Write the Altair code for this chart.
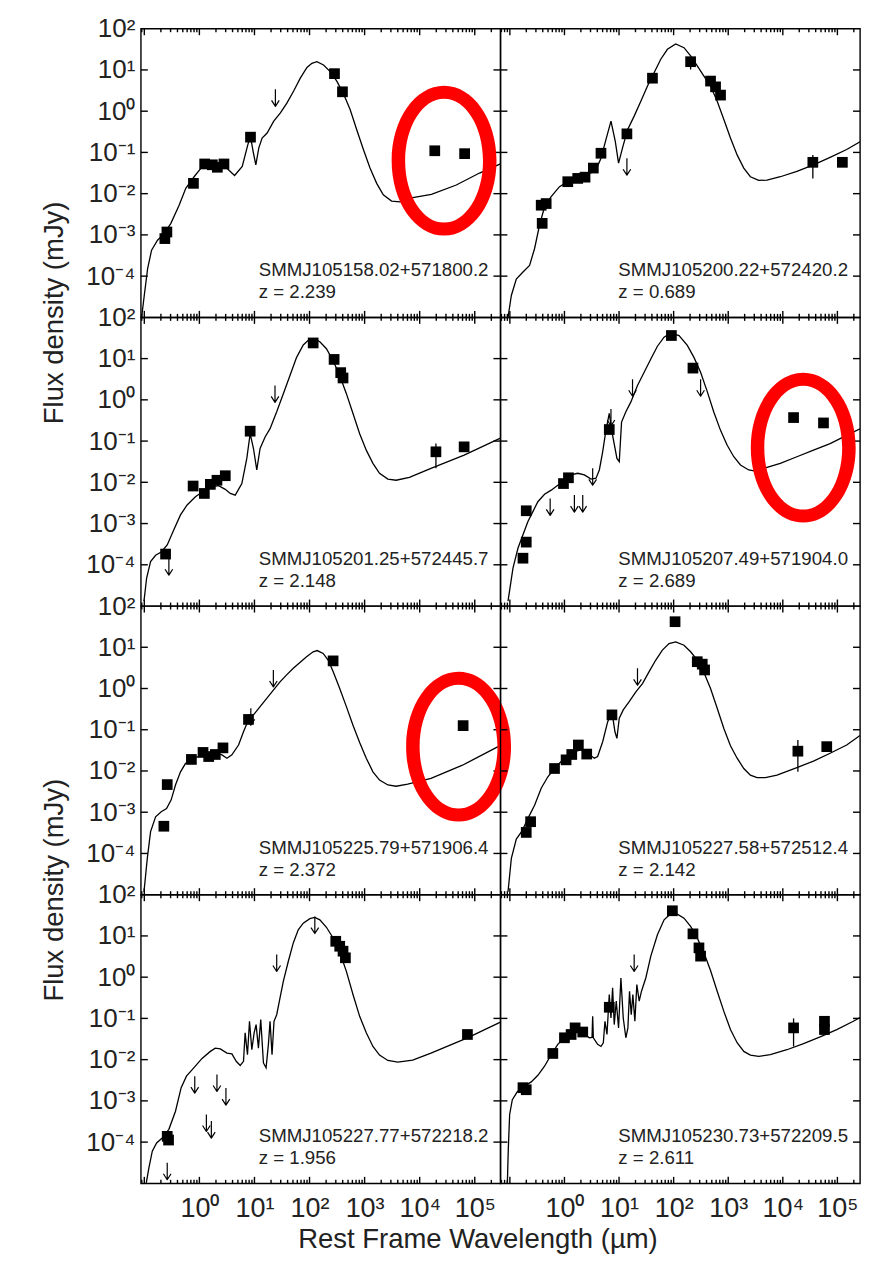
import altair as alt
import pandas as pd

# ---------------------------------------------------------------
# Text content
# ---------------------------------------------------------------
SOURCE_NAMES = ["SMMJ105158.02+571800.2", "SMMJ105200.22+572420.2",
                "SMMJ105201.25+572445.7", "SMMJ105207.49+571904.0",
                "SMMJ105225.79+571906.4", "SMMJ105227.58+572512.4",
                "SMMJ105227.77+572218.2", "SMMJ105230.73+572209.5"]
REDSHIFTS = ["2.239", "0.689", "2.148", "2.689", "2.372", "2.142", "1.956", "2.611"]
Y_TITLE = "Flux density (mJy)"
X_TITLE = "Rest Frame Wavelength (µm)"

Y_LABEL_EXP = [-4, -3, -2, -1, 0, 1, 2]
Y_LABEL_TEXT = ["10⁻⁴", "10⁻³", "10⁻²", "10⁻¹", "10⁰", "10¹", "10²"]
X_LABEL_EXP = [0, 1, 2, 3, 4, 5]
X_LABEL_TEXT = ["10⁰", "10¹", "10²", "10³", "10⁴", "10⁵"]

# tick marks on the frame
X_TICK_DECADES = [-2, -1, 0, 1, 2, 3, 4, 5]
X_MINOR_MULT = [2, 3, 4, 5, 6, 7, 8, 9]
Y_TICK_EXP = [-4, -3, -2, -1, 0, 1]

# ---------------------------------------------------------------
# Data: log10(rest wavelength / µm), log10(flux density / mJy)
# ---------------------------------------------------------------
# Panel A  SMMJ105158.02+571800.2
A_curve_lx = [-1.049, -1.001, -0.940, -0.868, -0.760, -0.639, -0.518, -0.368, -0.247, -0.096, 0.054, 0.235,
              0.446, 0.639, 0.778, 0.880, 0.928, 0.976, 1.025, 1.079, 1.139, 1.230, 1.350, 1.471, 1.591, 1.712,
              1.832, 1.953, 2.043, 2.134, 2.254, 2.375, 2.495, 2.616, 2.737, 2.857, 2.978, 3.098, 3.219, 3.339,
              3.490, 3.641, 3.822, 4.213, 4.665, 5.087, 5.466]
A_curve_ly = [-5.00, -4.47, -3.82, -3.37, -3.13, -2.97, -2.72, -2.28, -1.87, -1.59, -1.34, -1.24,
              -1.32, -1.56, -1.34, -0.81, -0.61, -0.98, -1.30, -0.89, -0.65, -0.53, -0.24, -0.04, 0.20, 0.49,
              0.80, 1.06, 1.16, 1.20, 1.12, 0.96, 0.73, 0.42, 0.04, -0.45, -0.93, -1.38, -1.75, -2.03,
              -2.18, -2.20, -2.11, -2.02, -1.79, -1.50, -1.28]
A_pts_lx = [-0.627, -0.590, -0.108, 0.096, 0.235, 0.326, 0.446, 0.928, 2.453, 2.598, 4.274, 4.816]
A_pts_ly = [-3.09, -2.93, -1.75, -1.28, -1.30, -1.36, -1.28, -0.63, 0.91, 0.47, -0.96, -1.03]
A_lim_lx = [1.380]
A_lim_ly = [0.53]
A_err_lx, A_err_lo, A_err_hi = [], [], []

# Panel B  SMMJ105200.22+572420.2
B_curve_lx = [-1.034, -0.973, -0.882, -0.760, -0.639, -0.547, -0.456, -0.365, -0.243, -0.091, 0.061, 0.243,
              0.426, 0.578, 0.669, 0.760, 0.852, 0.931, 0.991, 1.064, 1.156, 1.277, 1.399, 1.521, 1.642, 1.764,
              1.886, 2.038, 2.190, 2.311, 2.433, 2.555, 2.676, 2.798, 2.920, 3.041, 3.163, 3.285, 3.406, 3.558,
              3.710, 3.954, 4.258, 4.562, 4.866, 5.170, 5.414]
B_curve_ly = [-5.00, -4.47, -4.07, -3.90, -3.74, -3.33, -2.76, -2.32, -2.07, -1.83, -1.71, -1.63,
              -1.54, -1.42, -1.14, -0.69, -0.24, -0.73, -1.26, -0.89, -0.45, -0.12, 0.24, 0.61, 0.93, 1.26,
              1.50, 1.63, 1.54, 1.34, 1.10, 0.85, 0.61, 0.24, -0.20, -0.65, -1.06, -1.38, -1.59, -1.68,
              -1.67, -1.59, -1.46, -1.30, -1.12, -0.93, -0.74]
B_pts_lx = [-0.408, -0.426, -0.335, 0.061, 0.243, 0.377, 0.529, 0.669, 1.144, 1.612, 2.311, 2.676, 2.768,
            2.859, 4.550, 5.091]
B_pts_ly = [-2.72, -2.28, -2.24, -1.71, -1.63, -1.60, -1.38, -1.02, -0.55, 0.80, 1.20, 0.73, 0.59,
            0.39, -1.24, -1.24]
B_lim_lx = [1.144]
B_lim_ly = [-1.14]
B_err_lx, B_err_lo, B_err_hi = [2.311, 4.550], [1.01, -1.63], [1.30, -1.06]

# Panel C  SMMJ105201.25+572445.7
C_curve_lx = [-1.006, -0.958, -0.886, -0.795, -0.693, -0.584, -0.464, -0.343, -0.223, -0.072, 0.078, 0.229,
              0.349, 0.470, 0.560, 0.651, 0.771, 0.861, 0.922, 0.982, 1.042, 1.102, 1.193, 1.283, 1.404, 1.524,
              1.645, 1.765, 1.886, 2.006, 2.096, 2.187, 2.307, 2.428, 2.548, 2.669, 2.789, 2.910, 3.030, 3.151,
              3.271, 3.422, 3.572, 3.813, 4.205, 4.807, 5.466]
C_curve_ly = [-4.88, -4.32, -3.92, -3.77, -3.69, -3.52, -3.15, -2.79, -2.55, -2.35, -2.21, -2.11,
              -2.08, -2.17, -2.27, -2.31, -2.03, -1.42, -0.82, -1.18, -1.70, -1.18, -0.90, -0.70, -0.29, 0.15,
              0.59, 1.03, 1.33, 1.48, 1.48, 1.41, 1.24, 0.95, 0.59, 0.15, -0.33, -0.82, -1.22, -1.54,
              -1.78, -1.92, -1.95, -1.88, -1.66, -1.34, -0.93]
C_pts_lx = [-0.614, -0.114, 0.090, 0.199, 0.319, 0.470, 0.922, 2.066, 2.446, 2.566, 2.608, 4.295, 4.807]
C_pts_ly = [-3.74, -2.09, -2.27, -2.05, -1.95, -1.84, -0.76, 1.38, 0.98, 0.66, 0.53, -1.26, -1.14]
C_lim_lx = [-0.554, 1.373]
C_lim_ly = [-3.84, 0.35]
C_err_lx, C_err_lo, C_err_hi = [4.295], [-1.66], [-1.06]

# Panel D  SMMJ105207.49+571904.0
D_curve_lx = [-1.034, -0.943, -0.852, -0.760, -0.669, -0.578, -0.487, -0.365, -0.243, -0.122, 0.000, 0.122,
              0.243, 0.365, 0.487, 0.578, 0.639, 0.700, 0.760, 0.821, 0.882, 0.961, 1.004, 1.046, 1.125, 1.217,
              1.338, 1.460, 1.582, 1.703, 1.825, 1.946, 2.099, 2.251, 2.372, 2.494, 2.616, 2.737, 2.859, 2.981,
              3.102, 3.224, 3.376, 3.498, 3.650, 3.954, 4.258, 4.562, 4.866, 5.170, 5.414]
D_curve_ly = [-4.88, -4.08, -3.60, -3.27, -2.95, -2.71, -2.47, -2.29, -2.19, -2.07, -1.99, -1.82,
              -1.78, -1.82, -1.92, -1.90, -1.70, -1.26, -0.74, -0.33, -0.86, -1.42, -1.50, -0.54, -0.29, -0.05,
              0.35, 0.67, 0.99, 1.30, 1.52, 1.62, 1.56, 1.32, 1.03, 0.67, 0.20, -0.30, -0.74, -1.10,
              -1.38, -1.58, -1.70, -1.73, -1.66, -1.54, -1.38, -1.22, -1.06, -0.86, -0.70]
D_pts_lx = [-0.760, -0.700, -0.700, -0.018, 0.073, 0.821, 1.959, 2.354, 4.197, 4.745]
D_pts_ly = [-3.84, -3.45, -2.69, -2.03, -1.89, -0.72, 1.56, 0.77, -0.43, -0.56]
D_lim_lx = [-0.262, 0.182, 0.335, 0.517, 0.852, 1.247, 2.494]
D_lim_ly = [-2.39, -2.31, -2.31, -1.66, -0.22, 0.50, 0.50]
D_err_lx, D_err_lo, D_err_hi = [], [], []

# Panel E  SMMJ105225.79+571906.4
E_curve_lx = [-1.006, -0.946, -0.886, -0.795, -0.693, -0.596, -0.512, -0.434, -0.343, -0.253, -0.102, 0.078,
              0.259, 0.410, 0.500, 0.590, 0.711, 0.801, 0.892, 0.982, 1.102, 1.223, 1.343, 1.464, 1.584, 1.705,
              1.825, 1.946, 2.066, 2.139, 2.247, 2.337, 2.428, 2.548, 2.669, 2.789, 2.910, 3.030, 3.151, 3.271,
              3.422, 3.572, 3.783, 4.205, 4.777, 5.380, 5.466]
E_curve_ly = [-4.93, -4.12, -3.47, -3.11, -2.99, -2.91, -2.70, -2.34, -2.02, -1.82, -1.69, -1.61,
              -1.55, -1.61, -1.69, -1.61, -1.37, -1.05, -0.76, -0.64, -0.44, -0.24, -0.04, 0.16, 0.33, 0.49,
              0.63, 0.77, 0.89, 0.92, 0.85, 0.69, 0.41, 0.00, -0.44, -0.89, -1.31, -1.69, -2.02, -2.22,
              -2.34, -2.37, -2.32, -2.18, -1.86, -1.44, -1.38]
E_pts_lx = [-0.645, -0.584, -0.145, 0.066, 0.169, 0.289, 0.428, 0.892, 2.428, 4.789]
E_pts_ly = [-3.34, -2.33, -1.72, -1.55, -1.65, -1.60, -1.44, -0.75, 0.67, -0.90]
E_lim_lx = [0.934, 1.343]
E_lim_ly = [-0.48, 0.45]
E_err_lx, E_err_lo, E_err_hi = [], [], []

# Panel F  SMMJ105227.58+572512.4
F_curve_lx = [-1.034, -0.973, -0.882, -0.779, -0.669, -0.547, -0.426, -0.304, -0.182, -0.061, 0.061, 0.182,
              0.304, 0.426, 0.547, 0.608, 0.700, 0.791, 0.870, 0.925, 0.961, 1.004, 1.077, 1.186, 1.308, 1.429,
              1.551, 1.673, 1.794, 1.916, 2.038, 2.190, 2.311, 2.433, 2.555, 2.676, 2.798, 2.920, 3.041, 3.163,
              3.285, 3.406, 3.528, 3.680, 3.893, 4.258, 4.562, 4.866, 5.170, 5.414]
F_curve_ly = [-4.93, -4.12, -3.65, -3.46, -3.15, -2.83, -2.42, -2.14, -1.94, -1.77, -1.65, -1.53,
              -1.49, -1.57, -1.69, -1.65, -1.29, -0.81, -0.56, -1.05, -1.21, -0.72, -0.52, -0.32, -0.08, 0.12,
              0.41, 0.69, 0.93, 1.09, 1.13, 1.05, 0.89, 0.69, 0.39, 0.00, -0.48, -0.97, -1.39, -1.69,
              -1.94, -2.10, -2.16, -2.16, -2.10, -1.92, -1.76, -1.57, -1.37, -1.14]
F_pts_lx = [-0.700, -0.620, -0.182, 0.030, 0.134, 0.255, 0.408, 0.870, 2.026, 2.433, 2.524, 2.567, 4.276, 4.805]
F_pts_ly = [-3.49, -3.23, -1.94, -1.73, -1.60, -1.37, -1.59, -0.64, 1.62, 0.65, 0.59, 0.45, -1.52, -1.41]
F_lim_lx = [1.338]
F_lim_ly = [0.49]
F_err_lx, F_err_lo, F_err_hi = [4.276], [-2.02], [-1.25]

# Panel G  SMMJ105227.77+572218.2
G_curve_lx = [-0.964, -0.916, -0.855, -0.777, -0.675, -0.554, -0.434, -0.331, -0.235, -0.102, 0.048, 0.199,
              0.289, 0.380, 0.500, 0.590, 0.669, 0.741, 0.801, 0.831, 0.873, 0.910, 0.952, 0.994, 1.030, 1.072,
              1.114, 1.163, 1.211, 1.253, 1.283, 1.319, 1.355, 1.404, 1.464, 1.524, 1.614, 1.705, 1.795, 1.886,
              2.006, 2.096, 2.187, 2.307, 2.428, 2.548, 2.669, 2.789, 2.910, 3.030, 3.151, 3.271, 3.422, 3.602,
              3.873, 4.205, 4.867, 5.466]
G_curve_ly = [-4.99, -4.62, -4.22, -4.02, -3.90, -3.69, -3.25, -2.68, -2.40, -2.20, -1.97, -1.80,
              -1.72, -1.74, -1.84, -1.86, -2.04, -2.14, -2.04, -1.35, -1.88, -1.07, -1.76, -1.35, -1.15, -1.72,
              -1.03, -2.08, -2.20, -1.63, -1.07, -1.88, -1.07, -0.91, -0.50, -0.10, 0.38, 0.83, 1.15, 1.31,
              1.42, 1.45, 1.39, 1.21, 0.95, 0.61, 0.14, -0.42, -0.95, -1.35, -1.68, -1.89, -2.02, -2.06,
              -2.01, -1.84, -1.47, -1.09]
G_pts_lx = [-0.584, -0.560, 2.476, 2.548, 2.608, 2.651, 4.867]
G_pts_ly = [-3.86, -3.95, 0.87, 0.75, 0.63, 0.47, -1.39]
G_lim_lx = [-0.584, -0.084, 0.319, 0.482, 0.127, 0.217, 1.404, 2.096]
G_lim_ly = [-4.50, -2.40, -2.36, -2.69, -3.33, -3.49, 0.55, 1.47]
G_err_lx, G_err_lo, G_err_hi = [], [], []

# Panel H  SMMJ105230.73+572209.5
H_curve_lx = [-1.046, -1.028, -1.004, -0.955, -0.864, -0.730, -0.608, -0.487, -0.365, -0.243, -0.122, 0.000,
              0.122, 0.243, 0.365, 0.456, 0.505, 0.517, 0.529, 0.608, 0.669, 0.712, 0.742, 0.779, 0.821, 0.852,
              0.882, 0.912, 0.949, 0.991, 1.034, 1.077, 1.125, 1.162, 1.192, 1.223, 1.253, 1.290, 1.326, 1.369,
              1.411, 1.490, 1.582, 1.703, 1.825, 1.946, 2.068, 2.190, 2.311, 2.433, 2.555, 2.676, 2.798, 2.920,
              3.041, 3.163, 3.285, 3.406, 3.558, 3.771, 4.075, 4.380, 4.684, 4.988, 5.292, 5.414]
H_curve_ly = [-4.99, -4.14, -3.33, -2.97, -2.78, -2.64, -2.54, -2.38, -2.16, -1.88, -1.63, -1.47,
              -1.35, -1.31, -1.38, -1.47, -1.46, -0.95, -1.47, -1.63, -1.68, -1.59, -1.07, -1.39, -0.42, -0.99,
              -0.26, -1.15, -0.58, -1.23, -0.02, -0.99, -1.47, -1.23, -0.34, -0.91, -0.42, -1.07, -0.18, -0.58,
              -0.34, -0.02, 0.51, 1.03, 1.39, 1.54, 1.53, 1.43, 1.23, 0.95, 0.59, 0.16, -0.34, -0.83,
              -1.27, -1.59, -1.80, -1.89, -1.92, -1.88, -1.76, -1.61, -1.45, -1.27, -1.07, -0.98]
H_pts_lx = [-0.760, -0.700, -0.213, 0.000, 0.122, 0.195, 0.335, 0.821, 1.977, 2.354, 2.464, 2.494, 4.197,
            4.763, 4.763]
H_pts_ly = [-2.68, -2.73, -1.85, -1.47, -1.39, -1.23, -1.33, -0.73, 1.61, 1.05, 0.71, 0.51, -1.23,
            -1.07, -1.27]
H_lim_lx = [1.277]
H_lim_ly = [0.55]
H_err_lx, H_err_lo, H_err_hi = [4.197], [-1.68], [-1.00]

# Red highlight ellipses (panel index, centre)
ELL_PANEL = [0, 3, 4]
ELL_LX = [4.443, 4.374, 4.706]
ELL_LY = [-1.20, -1.16, -1.41]

# ---------------------------------------------------------------
# Layout / style
# ---------------------------------------------------------------
W, H = 360, 289
XDOM = {0: [10 ** -1.063, 10 ** 5.466], 1: [10 ** -1.173, 10 ** 5.414]}
YDOM = [1e-5, 1e2]
FONT = "Liberation Sans"
TXT = "#222222"
ARROW = "M0,0L0,2M-0.45,1.3L0,2L0.45,1.3"
# red ring drawn as a filled annulus (outer ellipse clockwise, inner counter-clockwise)
RING = ("M0,-1.50A1.05,1.50,0,1,1,0,1.50A1.05,1.50,0,1,1,0,-1.50Z"
        "M0,-1.24A0.78,1.24,0,1,0,0,1.24A0.78,1.24,0,1,0,0,-1.24Z")
RING_SIZE = 10000
MAJOR_LEN, MINOR_LEN, YTICK_LEN = 6.5, 3.5, 7
TICK_W = 1.4

PANELS = [
    (A_curve_lx, A_curve_ly, A_pts_lx, A_pts_ly, A_lim_lx, A_lim_ly, A_err_lx, A_err_lo, A_err_hi),
    (B_curve_lx, B_curve_ly, B_pts_lx, B_pts_ly, B_lim_lx, B_lim_ly, B_err_lx, B_err_lo, B_err_hi),
    (C_curve_lx, C_curve_ly, C_pts_lx, C_pts_ly, C_lim_lx, C_lim_ly, C_err_lx, C_err_lo, C_err_hi),
    (D_curve_lx, D_curve_ly, D_pts_lx, D_pts_ly, D_lim_lx, D_lim_ly, D_err_lx, D_err_lo, D_err_hi),
    (E_curve_lx, E_curve_ly, E_pts_lx, E_pts_ly, E_lim_lx, E_lim_ly, E_err_lx, E_err_lo, E_err_hi),
    (F_curve_lx, F_curve_ly, F_pts_lx, F_pts_ly, F_lim_lx, F_lim_ly, F_err_lx, F_err_lo, F_err_hi),
    (G_curve_lx, G_curve_ly, G_pts_lx, G_pts_ly, G_lim_lx, G_lim_ly, G_err_lx, G_err_lo, G_err_hi),
    (H_curve_lx, H_curve_ly, H_pts_lx, H_pts_ly, H_lim_lx, H_lim_ly, H_err_lx, H_err_lo, H_err_hi),
]


def p10(vals):
    return [10.0 ** v for v in vals]


def label_expr(exps, texts):
    s = "''"
    for e, t in reversed(list(zip(exps, texts))):
        s = f"(round(log(datum.value)/LN10) == {e}) ? '{t}' : {s}"
    return s


def x_label_axis(with_title):
    kw = dict(orient="bottom", values=p10(X_LABEL_EXP), labelExpr=label_expr(X_LABEL_EXP, X_LABEL_TEXT),
              ticks=False, domain=False, grid=False, labelPadding=12, labelFontSize=27, labelFont=FONT,
              labelColor=TXT, labelFlush=False, labelOverlap=False, labelBaseline="top", labelAlign="center")
    if with_title:
        kw.update(title=X_TITLE, titleFont=FONT, titleFontSize=27.5, titleFontWeight="normal",
                  titleColor=TXT, titleX=337, titleY=42, titleAlign="center", titleBaseline="top")
    else:
        kw.update(title=None)
    return alt.Axis(**kw)


def y_label_axis(with_title):
    kw = dict(orient="left", values=p10(Y_LABEL_EXP), labelExpr=label_expr(Y_LABEL_EXP, Y_LABEL_TEXT),
              ticks=False, domain=False, grid=False, labelPadding=6, labelFontSize=26, labelFont=FONT,
              labelColor=TXT, labelOverlap=False, labelBaseline="middle", labelAlign="right")
    if with_title:
        kw.update(title=Y_TITLE, titleFont=FONT, titleFontSize=27.5, titleFontWeight="normal",
                  titleColor=TXT, titleX=-86.5, titleY=284, titleAngle=270, titleAlign="center",
                  titleBaseline="middle")
    else:
        kw.update(title=None)
    return alt.Axis(**kw)


def tick_layers(xs, ys, col):
    dom = XDOM[col]
    major = [10.0 ** d for d in X_TICK_DECADES if dom[0] * 1.002 < 10.0 ** d < dom[1] * 0.998]
    minor = [m * 10.0 ** d for d in X_TICK_DECADES for m in X_MINOR_MULT
             if dom[0] * 1.002 < m * 10.0 ** d < dom[1] * 0.998]
    out = []
    for vals, length in ((major, MAJOR_LEN), (minor, MINOR_LEN)):
        base = alt.Chart(pd.DataFrame({"v": vals})).mark_rule(color="black", strokeWidth=TICK_W)
        out.append(base.encode(x=alt.X("v:Q", scale=xs, axis=None), y=alt.value(0), y2=alt.value(length)))
        out.append(base.encode(x=alt.X("v:Q", scale=xs, axis=None), y=alt.value(H), y2=alt.value(H - length)))
    basey = alt.Chart(pd.DataFrame({"v": p10(Y_TICK_EXP)})).mark_rule(color="black", strokeWidth=TICK_W)
    out.append(basey.encode(y=alt.Y("v:Q", scale=ys, axis=None), x=alt.value(0), x2=alt.value(YTICK_LEN)))
    out.append(basey.encode(y=alt.Y("v:Q", scale=ys, axis=None), x=alt.value(W), x2=alt.value(W - YTICK_LEN)))
    return out


def make_panel(i):
    row, col = divmod(i, 2)
    cx, cy, px, py, lx, ly, ex, elo, ehi = PANELS[i]
    xs = alt.Scale(type="log", domain=XDOM[col], nice=False)
    ys = alt.Scale(type="log", domain=YDOM, nice=False)

    xlab = x_label_axis(i == 6) if row == 3 else None
    ylab = y_label_axis(i in (0, 4)) if col == 0 else None

    curve_df = pd.DataFrame({"x": p10(cx), "y": p10(cy), "i": list(range(len(cx)))})
    curve = alt.Chart(curve_df).mark_line(color="black", strokeWidth=1.3, clip=True).encode(
        x=alt.X("x:Q", scale=xs, axis=xlab),
        y=alt.Y("y:Q", scale=ys, axis=ylab),
        order="i:Q",
    )

    layers = [curve] + tick_layers(xs, ys, col)

    if ex:
        err_df = pd.DataFrame({"x": p10(ex), "lo": p10(elo), "hi": p10(ehi)})
        layers.append(alt.Chart(err_df).mark_rule(color="black", strokeWidth=1.3).encode(
            x=alt.X("x:Q", scale=xs, axis=None),
            y=alt.Y("lo:Q", scale=ys, axis=None),
            y2="hi:Q",
        ))

    pts_df = pd.DataFrame({"x": p10(px), "y": p10(py)})
    layers.append(alt.Chart(pts_df).mark_square(size=115, color="black", opacity=1).encode(
        x=alt.X("x:Q", scale=xs, axis=None),
        y=alt.Y("y:Q", scale=ys, axis=None),
    ))

    lim_df = pd.DataFrame({"x": p10(lx), "y": p10(ly)})
    layers.append(alt.Chart(lim_df).mark_point(shape=ARROW, size=289, filled=False, color="black",
                                               strokeWidth=1.2, strokeJoin="round", opacity=1).encode(
        x=alt.X("x:Q", scale=xs, axis=None),
        y=alt.Y("y:Q", scale=ys, axis=None),
    ))

    name_df = pd.DataFrame({"t": [SOURCE_NAMES[i]]})
    z_df = pd.DataFrame({"t": ["z = " + REDSHIFTS[i]]})
    for df, yy in ((name_df, 248), (z_df, 270)):
        layers.append(alt.Chart(df).mark_text(align="left", baseline="alphabetic", font=FONT,
                                              fontSize=18.7, color=TXT).encode(
            x=alt.value(118), y=alt.value(yy), text="t:N"))

    if i in ELL_PANEL:
        k = ELL_PANEL.index(i)
        ell_df = pd.DataFrame({"x": [10.0 ** ELL_LX[k]], "y": [10.0 ** ELL_LY[k]]})
        layers.append(alt.Chart(ell_df).mark_point(shape=RING, size=RING_SIZE, filled=True, color="#ff0000",
                                                   strokeWidth=0, opacity=1).encode(
            x=alt.X("x:Q", scale=xs, axis=None),
            y=alt.Y("y:Q", scale=ys, axis=None),
        ))

    return alt.layer(*layers).resolve_axis(x="independent", y="independent").properties(width=W, height=H)


panels = [make_panel(i) for i in range(8)]

chart = alt.concat(*panels, columns=2, spacing=0, bounds="flush").properties(
    padding={"left": 31, "top": 6, "right": 0, "bottom": 0},
    background="white",
).configure_view(stroke="black", strokeWidth=1.4)

chart.save("out.html", embed_options={"renderer": "svg", "actions": False})
